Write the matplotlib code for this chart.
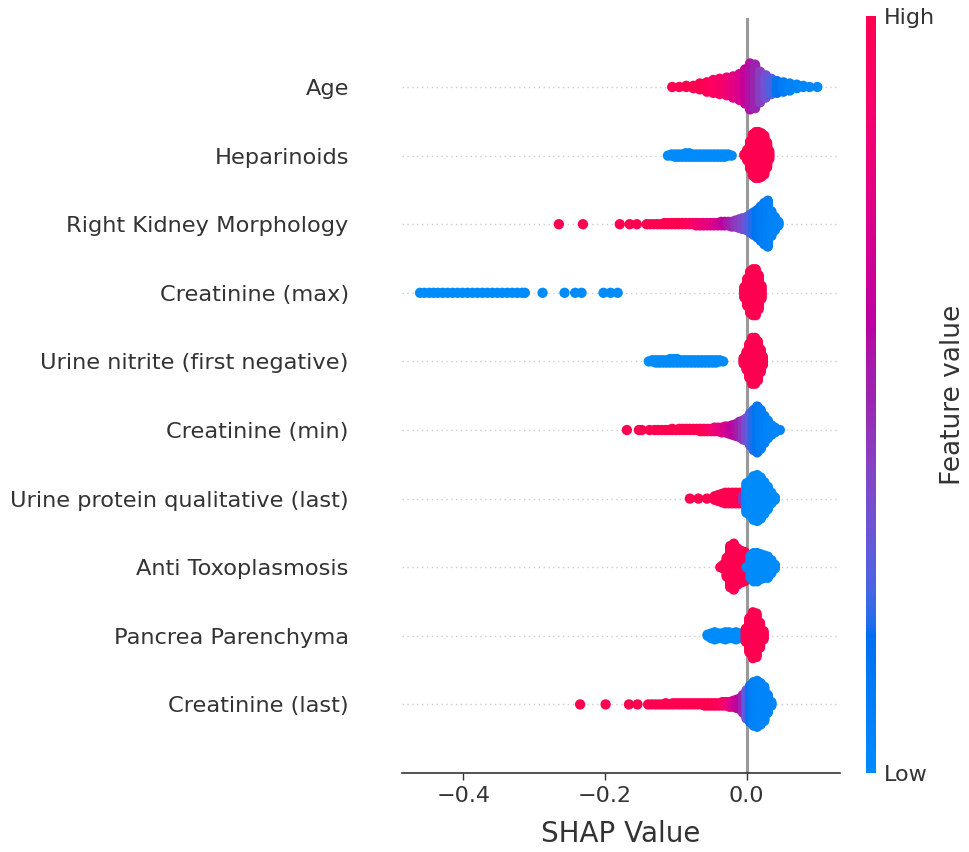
import numpy as np
import matplotlib
matplotlib.use("Agg")
import matplotlib.pyplot as plt
from matplotlib.colors import LinearSegmentedColormap, Normalize
from matplotlib.cm import ScalarMappable

# feature names, top to bottom
features = [
    "Age",
    "Heparinoids",
    "Right Kidney Morphology",
    "Creatinine (max)",
    "Urine nitrite (first negative)",
    "Creatinine (min)",
    "Urine protein qualitative (last)",
    "Anti Toxoplasmosis",
    "Pancrea Parenchyma",
    "Creatinine (last)",
]

# per feature: (shap value, number of samples, feature value 0=low .. 1=high)
age = [
    (-0.105, 1, 1.0), (-0.095, 1, 1.0), (-0.085, 2, 1.0), (-0.075, 3, 1.0), (-0.066, 6, 1.0),
    (-0.056, 9, 0.97), (-0.047, 12, 0.93), (-0.038, 14, 0.9), (-0.028, 16, 0.85), (-0.019, 19, 0.78),
    (-0.01, 23, 0.72), (-0.002, 30, 0.64), (0.005, 40, 0.56), (0.012, 38, 0.5), (0.019, 27, 0.42),
    (0.027, 20, 0.34), (0.035, 14, 0.25), (0.043, 11, 0.16), (0.052, 9, 0.1), (0.061, 7, 0.06),
    (0.071, 4, 0.04), (0.08, 2, 0.03), (0.089, 1, 0.02), (0.1, 1, 0.02),
]
heparinoids = [
    (-0.111, 1, 0.0), (-0.106, 2, 0.0), (-0.101, 3, 0.0), (-0.096, 3, 0.0), (-0.091, 3, 0.0),
    (-0.086, 4, 0.0), (-0.081, 4, 0.0), (-0.076, 3, 0.0), (-0.071, 3, 0.0), (-0.066, 3, 0.0),
    (-0.061, 3, 0.0), (-0.056, 3, 0.0), (-0.051, 3, 0.0), (-0.046, 3, 0.0), (-0.041, 3, 0.0),
    (-0.036, 3, 0.0), (-0.031, 3, 0.0), (-0.026, 2, 0.0), (-0.021, 1, 0.0),
    (-0.003, 2, 1.0), (0.001, 10, 1.0), (0.005, 24, 1.0), (0.009, 36, 1.0), (0.013, 40, 1.0),
    (0.017, 40, 1.0), (0.021, 38, 1.0), (0.025, 34, 1.0), (0.029, 22, 1.0), (0.032, 8, 1.0),
]
right_kidney = [
    (-0.265, 1, 1.0), (-0.231, 1, 1.0), (-0.179, 1, 1.0), (-0.165, 1, 1.0), (-0.155, 1, 1.0),
    (-0.141, 1, 1.0), (-0.136, 1, 1.0), (-0.131, 1, 1.0), (-0.126, 1, 1.0), (-0.121, 1, 1.0),
    (-0.116, 2, 1.0), (-0.111, 2, 1.0), (-0.106, 2, 1.0), (-0.101, 2, 1.0), (-0.096, 2, 1.0),
    (-0.091, 2, 1.0), (-0.086, 2, 0.98), (-0.081, 2, 0.95), (-0.076, 2, 0.92), (-0.071, 3, 0.88),
    (-0.066, 3, 0.85), (-0.061, 3, 0.82), (-0.056, 3, 0.8), (-0.051, 3, 0.77), (-0.046, 3, 0.74),
    (-0.041, 3, 0.7), (-0.036, 4, 0.65), (-0.031, 4, 0.6), (-0.026, 4, 0.55), (-0.021, 5, 0.5),
    (-0.016, 6, 0.46), (-0.011, 8, 0.42), (-0.006, 10, 0.38),
    (0.0, 12, 0.32), (0.005, 16, 0.25), (0.01, 20, 0.2), (0.015, 24, 0.15), (0.02, 30, 0.12),
    (0.025, 36, 0.1), (0.03, 40, 0.08), (0.035, 22, 0.06), (0.04, 12, 0.05), (0.045, 4, 0.05),
]
creatinine_max = [
    (-0.461, 1, 0.0), (-0.455, 1, 0.0), (-0.448, 1, 0.0), (-0.442, 1, 0.0), (-0.436, 1, 0.0),
    (-0.429, 1, 0.0), (-0.422, 1, 0.0), (-0.415, 1, 0.0), (-0.408, 1, 0.0), (-0.401, 1, 0.0),
    (-0.394, 1, 0.0), (-0.387, 1, 0.0), (-0.38, 1, 0.0), (-0.373, 1, 0.0), (-0.366, 1, 0.0),
    (-0.359, 1, 0.0), (-0.352, 1, 0.0), (-0.345, 1, 0.0), (-0.338, 1, 0.0), (-0.331, 1, 0.0),
    (-0.324, 1, 0.0), (-0.317, 1, 0.0), (-0.313, 1, 0.0), (-0.288, 1, 0.0), (-0.257, 1, 0.0),
    (-0.242, 1, 0.0), (-0.233, 1, 0.0), (-0.202, 1, 0.0), (-0.192, 1, 0.0), (-0.182, 1, 0.0),
    (-0.003, 10, 1.0), (0.001, 24, 1.0), (0.005, 36, 1.0), (0.009, 40, 1.0), (0.013, 40, 1.0),
    (0.017, 30, 1.0), (0.021, 12, 1.0),
]
urine_nitrite = [
    (-0.138, 1, 0.0), (-0.133, 2, 0.0), (-0.128, 3, 0.0), (-0.123, 3, 0.0), (-0.118, 3, 0.0),
    (-0.113, 3, 0.0), (-0.108, 4, 0.0), (-0.103, 4, 0.0), (-0.098, 4, 0.0), (-0.093, 3, 0.0),
    (-0.088, 3, 0.0), (-0.083, 3, 0.0), (-0.078, 3, 0.0), (-0.073, 3, 0.0), (-0.068, 3, 0.0),
    (-0.063, 3, 0.0), (-0.058, 3, 0.0), (-0.053, 3, 0.0), (-0.048, 3, 0.0), (-0.043, 3, 0.0),
    (-0.038, 2, 0.0), (-0.033, 1, 0.0),
    (-0.004, 6, 1.0), (0.0, 16, 1.0), (0.004, 30, 1.0), (0.008, 40, 1.0), (0.012, 40, 1.0),
    (0.016, 34, 1.0), (0.02, 20, 1.0), (0.023, 8, 1.0),
]
creatinine_min = [
    (-0.169, 1, 1.0), (-0.152, 1, 1.0), (-0.148, 1, 1.0), (-0.137, 1, 1.0), (-0.13, 1, 1.0),
    (-0.125, 1, 1.0), (-0.12, 1, 1.0), (-0.115, 1, 1.0), (-0.11, 1, 1.0), (-0.105, 2, 1.0),
    (-0.1, 1, 1.0), (-0.095, 2, 1.0), (-0.09, 2, 1.0), (-0.085, 2, 1.0), (-0.08, 2, 1.0),
    (-0.075, 2, 1.0), (-0.07, 2, 1.0), (-0.065, 3, 1.0), (-0.06, 3, 0.97), (-0.055, 3, 0.94),
    (-0.05, 3, 0.9), (-0.045, 4, 0.86), (-0.04, 4, 0.82), (-0.035, 5, 0.77), (-0.03, 6, 0.72),
    (-0.025, 7, 0.67), (-0.02, 9, 0.62), (-0.015, 11, 0.57), (-0.01, 14, 0.52),
    (-0.005, 17, 0.45), (0.0, 20, 0.35), (0.005, 28, 0.28), (0.01, 35, 0.2), (0.015, 40, 0.15),
    (0.02, 34, 0.1), (0.025, 24, 0.08), (0.03, 16, 0.06), (0.035, 9, 0.05), (0.04, 5, 0.05),
    (0.047, 1, 0.05),
]
urine_protein = [
    (-0.08, 1, 1.0), (-0.068, 1, 1.0), (-0.056, 1, 1.0), (-0.045, 4, 1.0), (-0.04, 6, 1.0),
    (-0.035, 8, 1.0), (-0.03, 10, 1.0), (-0.025, 10, 1.0), (-0.02, 10, 1.0), (-0.015, 10, 1.0),
    (-0.01, 10, 1.0), (-0.005, 5, 0.45), (0.0, 26, 0.02), (0.005, 30, 0.0), (0.01, 38, 0.0),
    (0.015, 40, 0.0), (0.02, 36, 0.0), (0.025, 28, 0.0), (0.03, 20, 0.0), (0.035, 10, 0.0),
    (0.04, 3, 0.0),
]
anti_toxoplasmosis = [
    (-0.037, 1, 1.0), (-0.033, 4, 1.0), (-0.028, 17, 1.0), (-0.023, 36, 1.0), (-0.018, 40, 1.0),
    (-0.013, 32, 1.0), (-0.008, 28, 1.0), (-0.003, 26, 1.0),
    (0.0, 1, 0.0), (0.006, 20, 0.0), (0.01, 25, 0.0), (0.015, 25, 0.0), (0.02, 22, 0.0),
    (0.025, 20, 0.0), (0.03, 19, 0.0), (0.035, 12, 0.0), (0.04, 4, 0.0),
]
pancrea_parenchyma = [
    (-0.055, 2, 0.0), (-0.05, 5, 0.0), (-0.045, 7, 0.0), (-0.04, 5, 0.0), (-0.035, 5, 0.0),
    (-0.03, 7, 0.0), (-0.025, 6, 0.0), (-0.02, 5, 0.0), (-0.015, 7, 0.0), (-0.01, 5, 0.0),
    (-0.006, 2, 0.0),
    (-0.001, 12, 1.0), (0.004, 30, 1.0), (0.009, 40, 1.0), (0.014, 38, 1.0), (0.019, 22, 1.0),
    (0.024, 8, 1.0),
]
creatinine_last = [
    (-0.235, 1, 1.0), (-0.199, 1, 1.0), (-0.166, 1, 1.0), (-0.154, 1, 1.0), (-0.139, 1, 1.0),
    (-0.134, 1, 1.0), (-0.129, 1, 1.0), (-0.124, 1, 1.0), (-0.119, 1, 1.0), (-0.114, 2, 1.0),
    (-0.109, 1, 1.0), (-0.104, 2, 1.0), (-0.099, 2, 1.0), (-0.094, 2, 1.0), (-0.089, 2, 1.0),
    (-0.084, 2, 1.0), (-0.079, 2, 1.0), (-0.074, 2, 1.0), (-0.069, 2, 1.0), (-0.064, 2, 1.0),
    (-0.059, 3, 1.0), (-0.054, 3, 1.0), (-0.049, 3, 1.0), (-0.044, 3, 1.0), (-0.039, 3, 0.97),
    (-0.034, 4, 0.93), (-0.029, 4, 0.88), (-0.024, 5, 0.8), (-0.019, 6, 0.72), (-0.014, 8, 0.65),
    (-0.009, 10, 0.58), (-0.005, 16, 0.5), (0.0, 25, 0.3), (0.005, 32, 0.15), (0.01, 38, 0.08),
    (0.015, 40, 0.06), (0.02, 36, 0.05), (0.025, 30, 0.05), (0.03, 16, 0.05), (0.035, 4, 0.05),
]

rows = [age, heparinoids, right_kidney, creatinine_max, urine_nitrite,
        creatinine_min, urine_protein, anti_toxoplasmosis, pancrea_parenchyma, creatinine_last]


def lch_to_rgb(l, c, h):
    # CIE Lch -> sRGB (D65), clipped
    a, b = c * np.cos(h), c * np.sin(h)
    fy = (l + 16) / 116
    fx = fy + a / 500
    fz = max(fy - b / 200, 0)

    def finv(t):
        return t ** 3 if t ** 3 > 0.008856 else (t - 16 / 116) / 7.787

    xyz = np.array([0.95047 * finv(fx), finv(fy), 1.08883 * finv(fz)])
    m = np.array([[3.2406, -1.5372, -0.4986],
                  [-0.9689, 1.8758, 0.0415],
                  [0.0557, -0.2040, 1.0570]])
    rgb = m @ xyz
    rgb = np.where(rgb > 0.0031308, 1.055 * np.abs(rgb) ** (1 / 2.4) - 0.055, 12.92 * rgb)
    return np.clip(rgb, 0, 1)


def red_blue_cmap(nsteps=100):
    blue_lch = [54.0, 70.0, 4.6588]
    red_lch = [54.0, 90.0, 0.35470565 + 2 * np.pi]
    l_vals = list(np.linspace(blue_lch[0], 40.0, nsteps // 2)) + list(np.linspace(40.0, red_lch[0], nsteps // 2))
    c_vals = np.linspace(blue_lch[1], red_lch[1], nsteps)
    h_vals = np.linspace(blue_lch[2], red_lch[2], nsteps)
    colors = [lch_to_rgb(l, c, h) for l, c, h in zip(l_vals, c_vals, h_vals)]
    return LinearSegmentedColormap.from_list("red_blue", colors)


def swarm(entries, row_height=0.4):
    # stack points of each bin alternately above/below the row centre
    xs, ys, cs = [], [], []
    for x, n, c in entries:
        for layer in range(n):
            xs.append(x)
            ys.append(np.ceil(layer / 2) * ((layer % 2) * 2 - 1))
            cs.append(c)
    ys = np.array(ys)
    ys *= 0.9 * (row_height / np.max(ys + 1))
    return np.array(xs), ys, np.array(cs)


def main():
    cmap = red_blue_cmap()
    fig = plt.figure(figsize=(9.69, 8.52), dpi=100)
    ax = fig.add_axes([0.4145, 0.0927, 0.4524, 0.8857])

    n = len(features)
    ax.axvline(0, color="#999999", lw=2.2, zorder=-1)
    for i, entries in enumerate(rows):
        pos = n - 1 - i
        ax.axhline(pos, color="#cccccc", lw=1.0, dashes=(1, 2.5), zorder=-1)
        xs, ys, cs = swarm(entries)
        ax.scatter(xs, pos + ys, c=cs, cmap=cmap, vmin=0, vmax=1, s=55,
                   linewidth=0, alpha=1, zorder=3, rasterized=True)

    ax.set_xlim(-0.487, 0.132)
    ax.set_ylim(-1, n)
    ax.set_yticks(range(n))
    ax.set_yticklabels(features[::-1], fontsize=16.2, color="#333333")
    ax.set_xticks([-0.4, -0.2, 0.0])
    ax.tick_params(axis="y", length=0, pad=38)
    ax.tick_params(axis="x", labelsize=16, labelcolor="#333333", color="#333333",
                   length=5.3, width=1.0, pad=4)
    for side in ["left", "right", "top"]:
        ax.spines[side].set_visible(False)
    ax.spines["bottom"].set_color("#333333")
    ax.spines["bottom"].set_linewidth(1.2)
    ax.set_xlabel("SHAP Value", fontsize=20, color="#333333", labelpad=10)

    cax = fig.add_axes([0.8937, 0.0927, 0.0103, 0.8881])
    cb = fig.colorbar(ScalarMappable(norm=Normalize(0, 1), cmap=cmap), cax=cax, ticks=[0, 1])
    cb.set_ticklabels(["Low", "High"])
    cb.ax.tick_params(labelsize=16, length=0, pad=6, labelcolor="#333333")
    cb.outline.set_visible(False)
    cb.set_label("Feature value", size=19, color="#333333", labelpad=3)

    fig.savefig("out.png", dpi=100, facecolor="white")


if __name__ == "__main__":
    main()
